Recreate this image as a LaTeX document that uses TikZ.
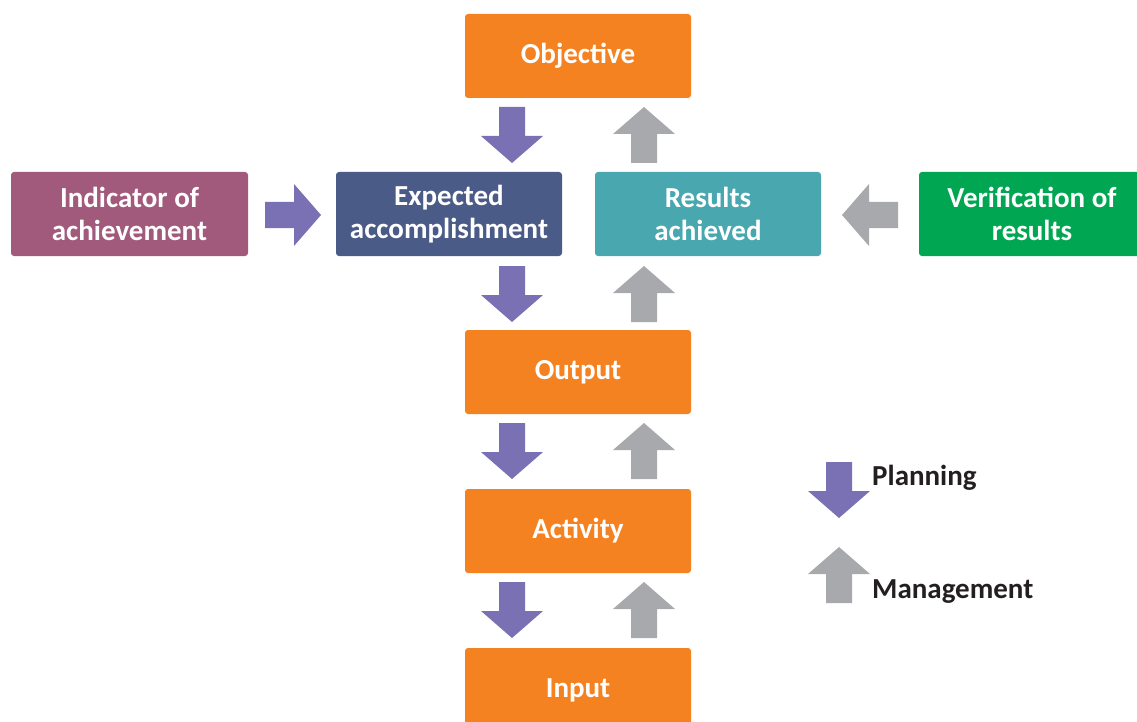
\documentclass[tikz,border=0pt]{standalone}
\usepackage{fontspec}
\setmainfont{Carlito}
\definecolor{boxorange}{HTML}{F58220}
\definecolor{boxplum}{HTML}{A15A7C}
\definecolor{boxnavy}{HTML}{4B5B87}
\definecolor{boxteal}{HTML}{48A7AF}
\definecolor{boxgreen}{HTML}{00A651}
\definecolor{planfill}{HTML}{7A70B4}
\definecolor{manfill}{HTML}{A7A9AC}
\definecolor{legendtext}{HTML}{231F20}
\tikzset{
    box/.style = {rounded corners = 3pt, text = white, align = center,
        font = \fontsize{29}{33}\selectfont\bfseries,
        minimum width = 226pt, minimum height = 84pt, inner sep = 0pt},
    blockarrow/.pic = {\fill (-28,-13) -- (1,-13) -- (1,-31) -- (28,0)
        -- (1,31) -- (1,13) -- (-28,13) -- cycle;}
}
\begin{document}
\begin{tikzpicture}[x = 1pt, y = -1pt]
    \useasboundingbox (0,0) rectangle (1137,722);
    % boxes
    \node[box, fill = boxorange] (objective) at (578,56) {Objective};
    \node[box, fill = boxplum, minimum width = 237pt] (indicator) at (129.5,214) {Indicator of\\achievement};
    \node[box, fill = boxnavy] (expected) at (449,214) {Expected\\accomplishment};
    \node[box, fill = boxteal] (results) at (708,214) {Results\\achieved};
    \node[box, fill = boxgreen] (verification) at (1032,214) {Verification of\\results};
    \node[box, fill = boxorange] (output) at (578,372) {Output};
    \node[box, fill = boxorange] (activity) at (578,531) {Activity};
    \node[box, fill = boxorange] (input) at (578,690) {Input};
    % planning arrows
    \foreach \y in {135, 294, 451, 610}
        \pic[planfill, rotate = -90] at (512,\y) {blockarrow};
    \pic[planfill] at (293,215) {blockarrow};
    % management arrows
    \foreach \y in {135, 294, 451, 610}
        \pic[manfill, rotate = 90] at (644,\y) {blockarrow};
    \pic[manfill, rotate = 180] at (870,215) {blockarrow};
    % legend
    \pic[planfill, rotate = -90] at (839,490) {blockarrow};
    \pic[manfill, rotate = 90] at (839,575) {blockarrow};
    \node[anchor = west, inner sep = 0pt, text = legendtext,
        font = \fontsize{29}{33}\selectfont\bfseries] (planning) at (872,478) {Planning};
    \node[anchor = west, inner sep = 0pt, text = legendtext,
        font = \fontsize{29}{33}\selectfont\bfseries] (management) at (872,592) {Management};
\end{tikzpicture}
\end{document}
